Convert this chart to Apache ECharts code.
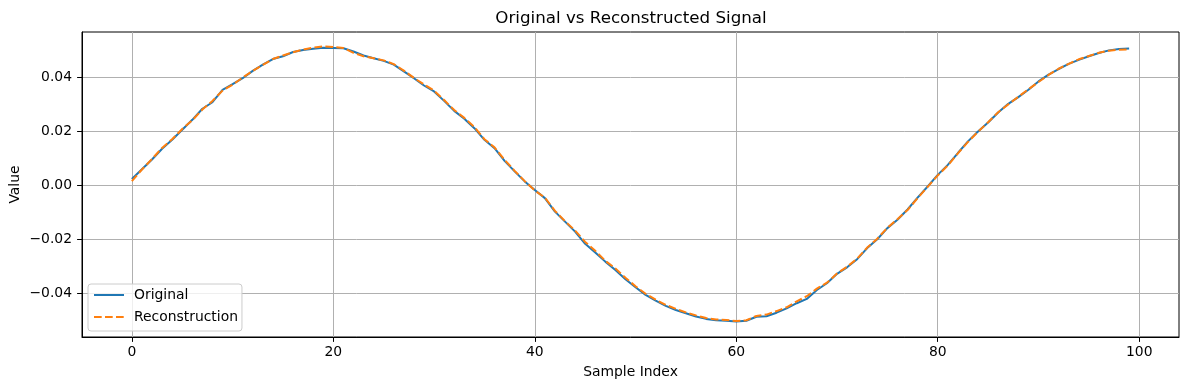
<!DOCTYPE html>
<html>
<head>
<meta charset="utf-8">
<script src="https://cdn.jsdelivr.net/npm/echarts@6/dist/echarts.min.js"></script>
<style>
  html, body { margin: 0; padding: 0; background: #ffffff; }
  #chart { width: 1189px; height: 390px; }
</style>
</head>
<body>
<div id="chart"></div>
<script>
const titleText = 'Original vs Reconstructed Signal';
const xAxisName = 'Sample Index';
const yAxisName = 'Value';
const seriesNames = ['Original', 'Reconstruction'];
const xTicks = [0, 20, 40, 60, 80, 100];
const yTicks = [-0.04, -0.02, 0.00, 0.02, 0.04];

const original = [
  0.0023, 0.0059, 0.0095, 0.0135, 0.0168, 0.0205, 0.0242, 0.0283, 0.0307, 0.0353,
  0.0374, 0.0396, 0.0423, 0.0446, 0.0467, 0.0477, 0.0493, 0.0500, 0.0505, 0.0509,
  0.0508, 0.0507, 0.0495, 0.0480, 0.0470, 0.0460, 0.0446, 0.0421, 0.0396, 0.0369,
  0.0347, 0.0312, 0.0275, 0.0246, 0.0211, 0.0168, 0.0137, 0.0090, 0.0051, 0.0014,
  -0.0018, -0.0048, -0.0098, -0.0135, -0.0172, -0.0217, -0.0249, -0.0283, -0.0314, -0.0348,
  -0.0378, -0.0406, -0.0427, -0.0447, -0.0462, -0.0474, -0.0486, -0.0495, -0.0500, -0.0502,
  -0.0505, -0.0502, -0.0487, -0.0485, -0.0472, -0.0456, -0.0437, -0.0421, -0.0388, -0.0363,
  -0.0328, -0.0304, -0.0274, -0.0233, -0.0200, -0.0159, -0.0128, -0.0090, -0.0046, -0.0005,
  0.0038, 0.0075, 0.0119, 0.0162, 0.0199, 0.0232, 0.0269, 0.0301, 0.0326, 0.0353,
  0.0384, 0.0409, 0.0430, 0.0449, 0.0464, 0.0477, 0.0489, 0.0499, 0.0504, 0.0506
];

const reconstruction = [
  0.0015, 0.0058, 0.0097, 0.0138, 0.0170, 0.0208, 0.0240, 0.0280, 0.0312, 0.0350,
  0.0372, 0.0398, 0.0423, 0.0445, 0.0467, 0.0480, 0.0492, 0.0502, 0.0509, 0.0514,
  0.0511, 0.0508, 0.0490, 0.0477, 0.0470, 0.0462, 0.0448, 0.0424, 0.0397, 0.0373,
  0.0350, 0.0315, 0.0278, 0.0249, 0.0215, 0.0170, 0.0140, 0.0094, 0.0053, 0.0015,
  -0.0020, -0.0046, -0.0095, -0.0133, -0.0168, -0.0210, -0.0243, -0.0280, -0.0308, -0.0343,
  -0.0374, -0.0402, -0.0424, -0.0443, -0.0458, -0.0471, -0.0482, -0.0492, -0.0497, -0.0499,
  -0.0503, -0.0500, -0.0484, -0.0479, -0.0466, -0.0452, -0.0430, -0.0411, -0.0383, -0.0361,
  -0.0327, -0.0302, -0.0272, -0.0231, -0.0198, -0.0158, -0.0126, -0.0092, -0.0048, -0.0006,
  0.0036, 0.0073, 0.0118, 0.0160, 0.0198, 0.0233, 0.0270, 0.0299, 0.0327, 0.0355,
  0.0382, 0.0408, 0.0431, 0.0449, 0.0466, 0.0478, 0.0490, 0.0498, 0.0501, 0.0503
];

const sampleIndex = original.map((_, i) => i);

const FONT = 'DejaVu Sans';
const fmtMinus = v => (v < 0 ? '\u2212' : '') + Math.abs(v).toFixed(2);

const chart = echarts.init(document.getElementById('chart'), null, { renderer: 'canvas' });
chart.setOption({
  animation: false,
  backgroundColor: '#ffffff',
  title: {
    text: titleText,
    left: 626,
    textAlign: 'center',
    top: 5,
    textStyle: { fontFamily: FONT, fontSize: 16.7, fontWeight: 'normal', color: '#000' }
  },
  grid: {
    left: 82, top: 32, right: 10, bottom: 53,
    outerBoundsMode: 'none',
    show: true, borderColor: '#000', borderWidth: 1, backgroundColor: 'transparent',
    containLabel: false
  },
  legend: {
    orient: 'vertical',
    left: 88, top: 284,
    padding: [4, 4, 7, 5],
    itemWidth: 30, itemHeight: 14, itemGap: 8,
    backgroundColor: 'rgba(255,255,255,0.8)',
    borderColor: '#cccccc', borderWidth: 1, borderRadius: 3,
    itemStyle: { opacity: 0 },
    textStyle: { fontFamily: FONT, fontSize: 13.9, color: '#000', padding: [0, 0, 0, 5] },
    data: seriesNames
  },
  xAxis: {
    type: 'value',
    min: -4.95, max: 103.95,
    splitNumber: 5,
    name: xAxisName,
    nameLocation: 'middle',
    nameGap: 28,
    nameMoveOverlap: false,
    nameTextStyle: { fontFamily: FONT, fontSize: 13.9, color: '#000' },
    axisLine: { show: true, onZero: false, lineStyle: { color: '#000', width: 1 } },
    axisTick: { show: true, length: 4.9, lineStyle: { color: '#000', width: 1 }, customValues: xTicks },
    axisLabel: {
      customValues: xTicks,
      margin: 8,
      fontFamily: FONT, fontSize: 13.9, color: '#000',
      formatter: v => String(Math.round(v))
    },
    splitLine: { show: true, lineStyle: { color: '#b0b0b0', width: 1 } }
  },
  yAxis: {
    type: 'value',
    min: -0.0562, max: 0.0567,
    splitNumber: 5,
    name: yAxisName,
    nameLocation: 'middle',
    nameGap: 60,
    nameMoveOverlap: false,
    nameTextStyle: { fontFamily: FONT, fontSize: 13.9, color: '#000' },
    axisLine: { show: true, onZero: false, lineStyle: { color: '#000', width: 1 } },
    axisTick: { show: true, length: 4.9, lineStyle: { color: '#000', width: 1 }, customValues: yTicks },
    axisLabel: {
      customValues: yTicks,
      margin: 10,
      fontFamily: FONT, fontSize: 13.9, color: '#000',
      formatter: v => fmtMinus(v)
    },
    splitLine: { show: true, lineStyle: { color: '#b0b0b0', width: 1 } }
  },
  series: [
    {
      name: seriesNames[0],
      type: 'line',
      data: sampleIndex.map((x, i) => [x, original[i]]),
      showSymbol: false, symbol: 'none',
      lineStyle: { color: '#1f77b4', width: 2 },
      itemStyle: { color: '#1f77b4' },
      z: 3
    },
    {
      name: seriesNames[1],
      type: 'line',
      data: sampleIndex.map((x, i) => [x, reconstruction[i]]),
      showSymbol: false, symbol: 'none',
      lineStyle: { color: '#ff7f0e', width: 2, type: [7.7, 3.3] },
      itemStyle: { color: '#ff7f0e' },
      z: 4
    }
  ]
});
</script>
</body>
</html>
